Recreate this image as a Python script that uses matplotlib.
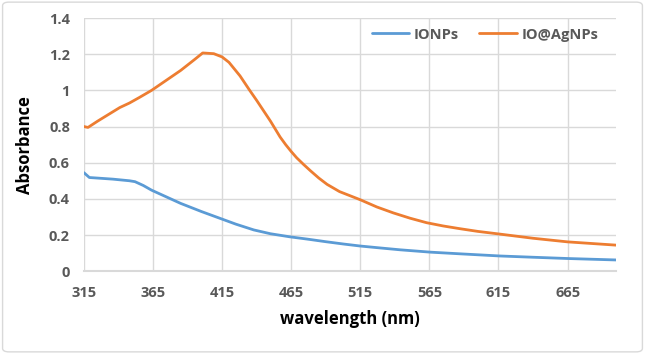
import matplotlib
matplotlib.use("Agg")
import matplotlib.pyplot as plt
from matplotlib.patches import FancyBboxPatch
from matplotlib.ticker import FuncFormatter

# wavelength (nm) / absorbance
wl_io = [315, 319, 336, 348, 352, 358, 364, 385, 400, 415, 425, 438, 450, 464, 477, 490, 503, 515,
         530, 544, 566, 587, 616, 640, 665, 700]
abs_io = [0.545, 0.518, 0.509, 0.500, 0.495, 0.474, 0.448, 0.375, 0.330, 0.288, 0.260, 0.228, 0.207,
          0.190, 0.177, 0.163, 0.150, 0.139, 0.128, 0.118, 0.105, 0.096, 0.084, 0.077, 0.070, 0.062]

wl_ag = [315, 318, 325, 341, 348, 355, 364, 385, 395, 401, 409, 415, 420, 428, 435, 440, 450, 457,
         461, 465, 469, 474, 479, 485, 491, 500, 515, 527, 539, 551, 563, 575, 587, 600, 616, 640,
         665, 700]
abs_ag = [0.800, 0.795, 0.830, 0.905, 0.930, 0.960, 1.000, 1.110, 1.170, 1.207, 1.203, 1.185, 1.155,
          1.080, 1.000, 0.945, 0.830, 0.742, 0.700, 0.662, 0.627, 0.590, 0.555, 0.515, 0.480, 0.440,
          0.395, 0.355, 0.322, 0.293, 0.268, 0.250, 0.235, 0.220, 0.205, 0.182, 0.162, 0.144]

xticks = [315, 365, 415, 465, 515, 565, 615, 665]
yticks = [0, 0.2, 0.4, 0.6, 0.8, 1.0, 1.2, 1.4]

plt.rcParams['font.family'] = ['Open Sans', 'DejaVu Sans']

fig = plt.figure(figsize=(6.45, 3.54), dpi=100)
ax = fig.add_axes([0.130, 0.234, 0.825, 0.715])

ax.plot(wl_io, abs_io, color='#5B9BD5', lw=2.0, label='IONPs', solid_capstyle='round', solid_joinstyle='round')
ax.plot(wl_ag, abs_ag, color='#ED7D31', lw=2.0, label='IO@AgNPs', solid_capstyle='round', solid_joinstyle='round')

ax.set_xlim(315, 700)
ax.set_ylim(0, 1.4)
ax.set_xticks(xticks)
ax.set_yticks(yticks)
ax.yaxis.set_major_formatter(FuncFormatter(lambda v, p: '{:g}'.format(round(v, 1))))
ax.grid(True, color='#D9D9D9', lw=1)
ax.set_axisbelow(True)
for s in ['top', 'right', 'left']:
    ax.spines[s].set_visible(False)
ax.spines['bottom'].set_color('#D9D9D9')
ax.spines['bottom'].set_linewidth(1.5)
ax.tick_params(length=0, labelsize=10.5, labelcolor='#595959', pad=11)
for lab in ax.get_xticklabels() + ax.get_yticklabels():
    lab.set_fontweight('bold')
ax.tick_params(axis='y', pad=10)

ax.set_xlabel('wavelength (nm)', fontsize=12, fontweight='bold', labelpad=7)
ax.set_ylabel('Absorbance', fontsize=12, fontweight='bold', labelpad=11)

leg = ax.legend(loc='center', bbox_to_anchor=(0.754, 0.935), ncol=2, frameon=False,
                handlelength=2.6, columnspacing=1.4, handletextpad=0.3,
                prop={'size': 10.5, 'weight': 'bold'})
for t in leg.get_texts():
    t.set_color('#595959')

fig.patches.append(FancyBboxPatch((0.004, 0.006), 0.992, 0.988, boxstyle='round,pad=0,rounding_size=0.01',
                                  transform=fig.transFigure, fill=False, edgecolor='#D9D9D9', lw=1))

fig.savefig('out.png', dpi=100)
